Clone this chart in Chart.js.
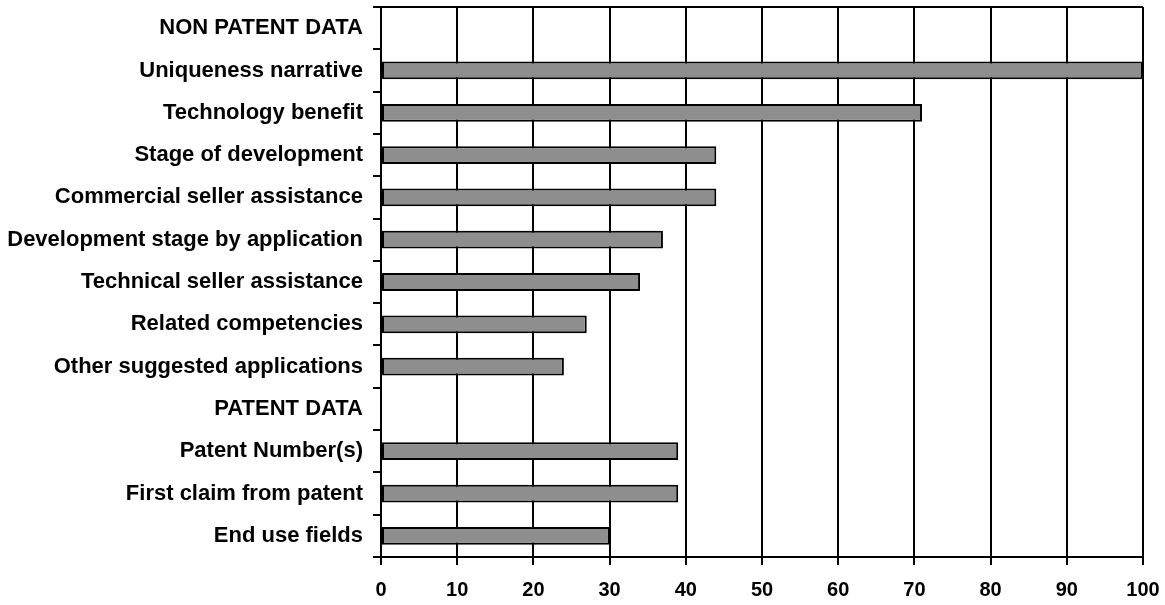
<!DOCTYPE html>
<html>
<head>
<meta charset="utf-8">
<script src="https://cdn.jsdelivr.net/npm/chart.js@4"></script>
<style>
  html, body { margin: 0; padding: 0; background: #ffffff; }
  #wrap { width: 1165px; height: 605px; }
</style>
</head>
<body>
<div id="wrap"><canvas id="c" width="1165" height="605"></canvas></div>
<script>
const categories = [
  'NON PATENT DATA',
  'Uniqueness narrative',
  'Technology benefit',
  'Stage of development',
  'Commercial seller assistance',
  'Development stage by application',
  'Technical seller assistance',
  'Related competencies',
  'Other suggested applications',
  'PATENT DATA',
  'Patent Number(s)',
  'First claim from patent',
  'End use fields'
];
const percentValues = [null, 100, 71, 44, 44, 37, 34, 27, 24, null, 39, 39, 30];
const xTicks = [0, 10, 20, 30, 40, 50, 60, 70, 80, 90, 100];

// Closes the frame along the top edge of the plot area
const topEdge = {
  id: 'topEdge',
  afterDatasetsDraw(chart) {
    const { ctx, chartArea } = chart;
    ctx.save();
    ctx.strokeStyle = '#000000';
    ctx.lineWidth = 2;
    ctx.beginPath();
    ctx.moveTo(chartArea.left, chartArea.top);
    ctx.lineTo(chartArea.right, chartArea.top);
    ctx.stroke();
    ctx.restore();
  }
};

new Chart(document.getElementById('c'), {
  type: 'bar',
  data: {
    labels: categories,
    datasets: [{
      data: percentValues,
      backgroundColor: '#8e8e8e',
      borderColor: '#000000',
      borderWidth: 2,
      borderSkipped: false,
      categoryPercentage: 1.0,
      barPercentage: 0.42
    }]
  },
  options: {
    indexAxis: 'y',
    responsive: false,
    animation: false,
    layout: { padding: { top: 7, right: 22, left: 0, bottom: 0 } },
    plugins: {
      legend: { display: false },
      tooltip: { enabled: false }
    },
    scales: {
      x: {
        min: 0,
        max: 100,
        afterBuildTicks(scale) { scale.ticks = xTicks.map(v => ({ value: v })); },
        afterFit(scale) {
          scale.height = 48;
          scale.paddingLeft = 0;
          scale.paddingRight = 0;
        },
        grid: { color: '#000000', lineWidth: 2, tickLength: 8, tickColor: '#000000' },
        border: { color: '#000000', width: 2 },
        ticks: {
          color: '#000000',
          padding: 13,
          maxRotation: 0,
          font: { family: 'Liberation Sans, Arial, sans-serif', size: 20, weight: 'bold' }
        }
      },
      y: {
        afterFit(scale) {
          scale.width = 381;
          scale.paddingTop = 0;
          scale.paddingBottom = 0;
        },
        grid: { drawOnChartArea: false, offset: true, lineWidth: 2, tickLength: 8, tickColor: '#000000' },
        border: { color: '#000000', width: 2 },
        ticks: {
          color: '#000000',
          padding: 10,
          autoSkip: false,
          font: { family: 'Liberation Sans, Arial, sans-serif', size: 22, weight: 'bold' }
        }
      }
    }
  },
  plugins: [topEdge]
});
</script>
</body>
</html>
